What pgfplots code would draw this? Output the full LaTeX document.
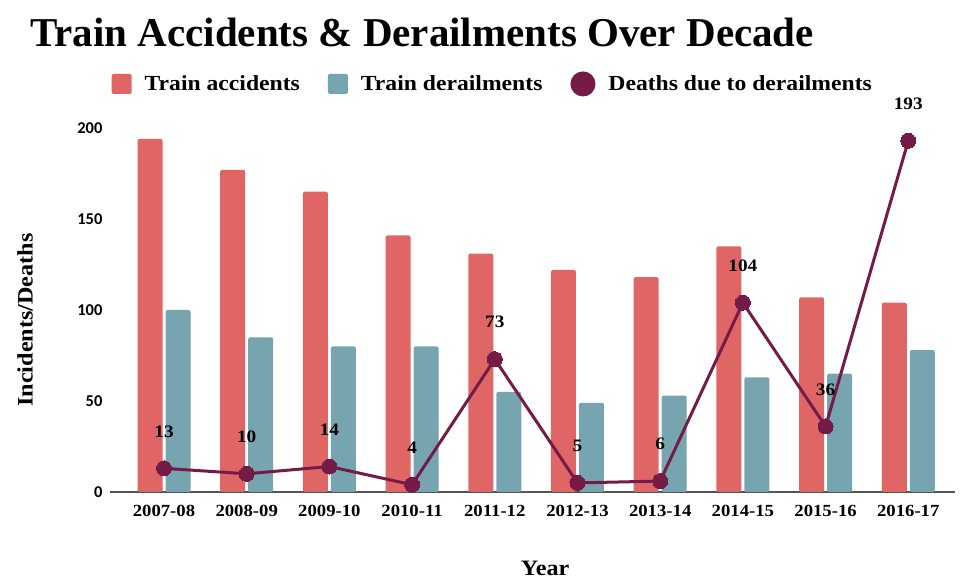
\documentclass[border=0pt]{standalone}
\usepackage{pgfplots}
\pgfplotsset{compat=1.18}
\usepackage{fontspec}
\setmainfont[FakeStretch=1.1]{Liberation Serif}
\newfontfamily\titlefont{Liberation Serif}
\newfontfamily\tickfont{Carlito}
\definecolor{accred}{HTML}{E06666}
\definecolor{dertea}{HTML}{76A5AF}
\definecolor{deathc}{HTML}{741B47}
\definecolor{axgray}{HTML}{555555}
\begin{document}
\begin{tikzpicture}
\path[use as bounding box] (0,0) rectangle (965pt,580pt);
\node[anchor=base west, inner sep=0pt, font=\titlefont\bfseries\fontsize{41}{48}\selectfont] at (30pt,533pt) {Train Accidents \& Derailments Over Decade};
\begin{axis}[
  at={(110pt,88pt)}, anchor=south west,
  width=845pt, height=364pt, scale only axis,
  xmin=-0.653, xmax=9.565, ymin=0, ymax=200,
  clip=false,
  axis x line*=bottom, axis y line*=left,
  y axis line style={draw=none},
  x axis line style={axgray, line width=1.5pt, -},
  major tick length=0pt,
  ytick={0,50,100,150,200},
  xtick={0,...,9},
  xticklabels={2007-08,2008-09,2009-10,2010-11,2011-12,2012-13,2013-14,2014-15,2015-16,2016-17},
  /pgf/number format/assume math mode=true,
  xticklabel style={font=\bfseries\fontsize{17}{20}\selectfont, black, yshift=-10pt},
  yticklabel style={font=\tickfont\bfseries\fontsize{16.5}{20}\selectfont, black, xshift=-4pt},
  xlabel={Year}, ylabel={Incidents/Deaths},
  label style={font=\bfseries\fontsize{22}{26}\selectfont},
  ylabel style={at={(axis description cs:-0.1006,0.4725)}, anchor=center},
  xlabel style={at={(axis description cs:0.515,-0.21)}, anchor=center},
  legend columns=3,
  legend style={at={(0.453,1.121)}, anchor=center, draw=none, fill=none,
    font=\bfseries\fontsize{21.5}{24}\selectfont,
    /tikz/every even column/.append style={column sep=26pt}},
]
\addplot[ybar, bar width=25pt, bar shift=-14pt, fill=accred, draw=none, rounded corners=2pt,
  legend image code/.code={\fill[accred, rounded corners=2pt] (0pt,-10pt) rectangle (20pt,10pt); \path (31pt,0pt);}]
  coordinates {(0,194) (1,177) (2,165) (3,141) (4,131) (5,122) (6,118) (7,135) (8,107) (9,104)};
\addlegendentry{Train accidents}
\addplot[ybar, bar width=25pt, bar shift=14pt, fill=dertea, draw=none, rounded corners=2pt,
  legend image code/.code={\fill[dertea, rounded corners=2pt] (0pt,-10pt) rectangle (20pt,10pt); \path (31pt,0pt);}]
  coordinates {(0,100) (1,85) (2,80) (3,80) (4,55) (5,49) (6,53) (7,63) (8,65) (9,78)};
\addlegendentry{Train derailments}
\addplot[deathc, line width=3pt, sharp plot, mark=*, mark size=7.5pt,
  mark options={fill=deathc, draw=deathc, line width=0pt},
  nodes near coords,
  every node near coord/.append style={black, anchor=center, yshift=37pt,
    font=\bfseries\fontsize{17.5}{20}\selectfont},
  legend image code/.code={\fill[deathc] (11pt,0pt) circle (11pt); \path (33pt,0pt);}]
  coordinates {(0,13) (1,10) (2,14) (3,4) (4,73) (5,5) (6,6) (7,104) (8,36) (9,193)};
\addlegendentry{Deaths due to derailments}
\end{axis}
\end{tikzpicture}
\end{document}
